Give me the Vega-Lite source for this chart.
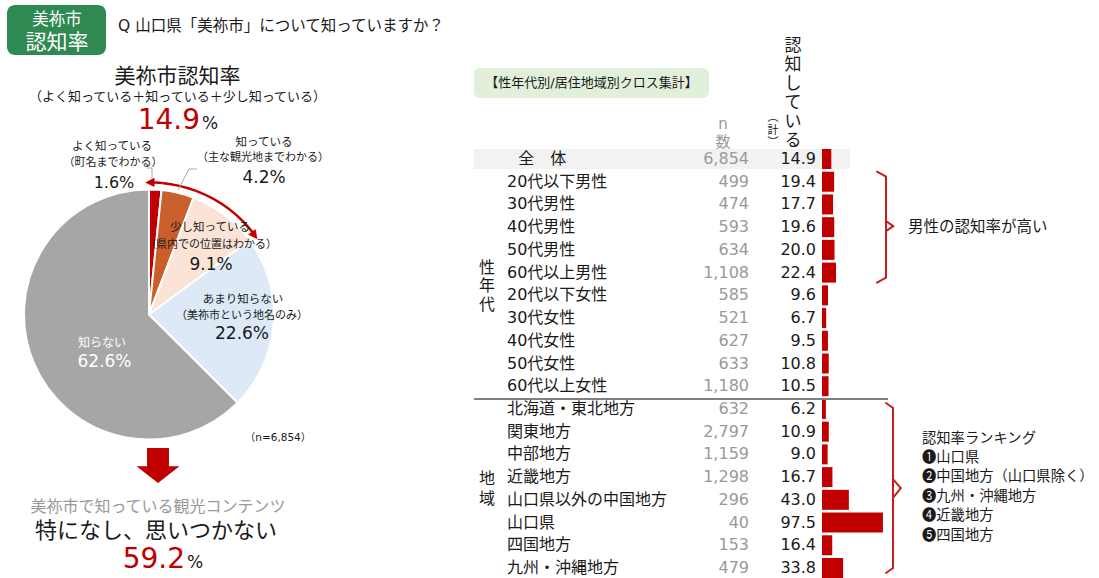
{
  "$schema": "https://vega.github.io/schema/vega-lite/v6.json",
  "padding": 0,
  "background": "white",
  "spacing": 4,
  "bounds": "flush",
  "config": {
    "view": {"stroke": null},
    "axis": {"disable": true},
    "legend": {"disable": true},
    "text": {"font": "DejaVu Sans, Noto Sans CJK JP", "fill": "#1a1a1a"}
  },
  "datasets": {
    "pie": [
      {"order": 1, "cat": "よく知っている", "pct": 1.6},
      {"order": 2, "cat": "知っている", "pct": 4.2},
      {"order": 3, "cat": "少し知っている", "pct": 9.1},
      {"order": 4, "cat": "あまり知らない", "pct": 22.6},
      {"order": 5, "cat": "知らない", "pct": 62.6}
    ],
    "table": [
      {"i": 0, "label": "全　体", "n": "6,854", "rate": 14.9},
      {"i": 1, "label": "20代以下男性", "n": "499", "rate": 19.4},
      {"i": 2, "label": "30代男性", "n": "474", "rate": 17.7},
      {"i": 3, "label": "40代男性", "n": "593", "rate": 19.6},
      {"i": 4, "label": "50代男性", "n": "634", "rate": 20.0},
      {"i": 5, "label": "60代以上男性", "n": "1,108", "rate": 22.4},
      {"i": 6, "label": "20代以下女性", "n": "585", "rate": 9.6},
      {"i": 7, "label": "30代女性", "n": "521", "rate": 6.7},
      {"i": 8, "label": "40代女性", "n": "627", "rate": 9.5},
      {"i": 9, "label": "50代女性", "n": "633", "rate": 10.8},
      {"i": 10, "label": "60代以上女性", "n": "1,180", "rate": 10.5},
      {"i": 11, "label": "北海道・東北地方", "n": "632", "rate": 6.2},
      {"i": 12, "label": "関東地方", "n": "2,797", "rate": 10.9},
      {"i": 13, "label": "中部地方", "n": "1,159", "rate": 9.0},
      {"i": 14, "label": "近畿地方", "n": "1,298", "rate": 16.7},
      {"i": 15, "label": "山口県以外の中国地方", "n": "296", "rate": 43.0},
      {"i": 16, "label": "山口県", "n": "40", "rate": 97.5},
      {"i": 17, "label": "四国地方", "n": "153", "rate": 16.4},
      {"i": 18, "label": "九州・沖縄地方", "n": "479", "rate": 33.8}
    ]
  },
  "hconcat": [
    {
      "width": 470,
      "height": 578,
      "data": {"values": [{}]},
      "layer": [
        {"mark": {"type": "rect", "fill": "#2e8a50", "cornerRadius": 8},
         "encoding": {"x": {"datum": 7, "type": "quantitative", "scale": {"domain": [0, 470]}}, "x2": {"datum": 106},
                      "y": {"datum": 5, "type": "quantitative", "scale": {"domain": [578, 0]}}, "y2": {"datum": 55}}},
        {"mark": {"type": "text", "text": "美祢市", "fontSize": 16.5, "fill": "#ffffff"},
         "encoding": {"x": {"datum": 57, "type": "quantitative", "scale": {"domain": [0, 470]}}, "y": {"datum": 20, "type": "quantitative", "scale": {"domain": [578, 0]}}}},
        {"mark": {"type": "text", "text": "認知率", "fontSize": 21, "fill": "#ffffff"},
         "encoding": {"x": {"datum": 57, "type": "quantitative", "scale": {"domain": [0, 470]}}, "y": {"datum": 43, "type": "quantitative", "scale": {"domain": [578, 0]}}}},
        {"mark": {"type": "text", "text": "Q 山口県「美祢市」について知っていますか？", "fontSize": 15.5, "align": "left"},
         "encoding": {"x": {"datum": 118, "type": "quantitative", "scale": {"domain": [0, 470]}}, "y": {"datum": 26, "type": "quantitative", "scale": {"domain": [578, 0]}}}},
        {"mark": {"type": "text", "text": "美祢市認知率", "fontSize": 21},
         "encoding": {"x": {"datum": 177.5, "type": "quantitative", "scale": {"domain": [0, 470]}}, "y": {"datum": 77, "type": "quantitative", "scale": {"domain": [578, 0]}}}},
        {"mark": {"type": "text", "text": "（よく知っている＋知っている＋少し知っている）", "fontSize": 13},
         "encoding": {"x": {"datum": 177.5, "type": "quantitative", "scale": {"domain": [0, 470]}}, "y": {"datum": 97, "type": "quantitative", "scale": {"domain": [578, 0]}}}},
        {"mark": {"type": "text", "text": "14.9", "fontSize": 28, "fill": "#c00000", "align": "right"},
         "encoding": {"x": {"datum": 200, "type": "quantitative", "scale": {"domain": [0, 470]}}, "y": {"datum": 121, "type": "quantitative", "scale": {"domain": [578, 0]}}}},
        {"mark": {"type": "text", "text": "%", "fontSize": 17, "align": "left"},
         "encoding": {"x": {"datum": 202, "type": "quantitative", "scale": {"domain": [0, 470]}}, "y": {"datum": 124, "type": "quantitative", "scale": {"domain": [578, 0]}}}},
        {"data": {"name": "pie"},
         "transform": [{"stack": "pct", "groupby": [], "sort": [{"field": "order", "order": "ascending"}], "as": ["p0", "p1"]}],
         "mark": {"type": "arc", "outerRadius": 125, "stroke": "#ffffff", "strokeWidth": 2},
         "encoding": {
           "x": {"datum": 149, "type": "quantitative", "scale": {"domain": [0, 470]}},
           "y": {"datum": 314.5, "type": "quantitative", "scale": {"domain": [578, 0]}},
           "theta": {"field": "p0", "type": "quantitative", "stack": null, "scale": {"domain": [0, 100.1]}},
           "theta2": {"field": "p1"},
           "color": {"field": "cat", "type": "nominal", "legend": null,
                     "scale": {"domain": ["よく知っている", "知っている", "少し知っている", "あまり知らない", "知らない"],
                               "range": ["#c00000", "#c9602c", "#fbe3d6", "#dde9f6", "#a6a6a6"]}}
         }},
        {"data": {"name": "pie"},
         "transform": [{"stack": "pct", "groupby": [], "sort": [{"field": "order", "order": "ascending"}], "as": ["p0", "p1"]}, {"filter": "datum.order <= 3"}],
         "mark": {"type": "arc", "innerRadius": 131, "outerRadius": 133.5, "fill": "#c00000", "strokeWidth": 0},
         "encoding": {
           "x": {"datum": 149, "type": "quantitative", "scale": {"domain": [0, 470]}},
           "y": {"datum": 314.5, "type": "quantitative", "scale": {"domain": [578, 0]}},
           "theta": {"field": "p0", "type": "quantitative", "stack": null, "scale": {"domain": [0, 100.1]}},
           "theta2": {"field": "p1"}
         }},
        {"data": {"name": "pie"},
         "transform": [{"stack": "pct", "groupby": [], "sort": [{"field": "order", "order": "ascending"}], "as": ["p0", "p1"]}, {"filter": "datum.order == 1"}],
         "mark": {"type": "text", "text": "▲", "fontSize": 12, "fill": "#c00000", "radius": 132, "angle": 270},
         "encoding": {
           "x": {"datum": 149, "type": "quantitative", "scale": {"domain": [0, 470]}},
           "y": {"datum": 314.5, "type": "quantitative", "scale": {"domain": [578, 0]}},
           "theta": {"field": "p0", "type": "quantitative", "stack": null, "scale": {"domain": [0, 100.1]}}
         }},
        {"data": {"name": "pie"},
         "transform": [{"stack": "pct", "groupby": [], "sort": [{"field": "order", "order": "ascending"}], "as": ["p0", "p1"]}, {"filter": "datum.order == 3"}],
         "mark": {"type": "text", "text": "▲", "fontSize": 12, "fill": "#c00000", "radius": 132, "angle": 143.6},
         "encoding": {
           "x": {"datum": 149, "type": "quantitative", "scale": {"domain": [0, 470]}},
           "y": {"datum": 314.5, "type": "quantitative", "scale": {"domain": [578, 0]}},
           "theta": {"field": "p1", "type": "quantitative", "stack": null, "scale": {"domain": [0, 100.1]}}
         }},
        {"mark": {"type": "rule", "color": "#a6a6a6", "strokeWidth": 1},
         "encoding": {"x": {"datum": 147, "type": "quantitative", "scale": {"domain": [0, 470]}}, "x2": {"datum": 152},
                      "y": {"datum": 168, "type": "quantitative", "scale": {"domain": [578, 0]}}, "y2": {"datum": 168}}},
        {"mark": {"type": "rule", "color": "#a6a6a6", "strokeWidth": 1},
         "encoding": {"x": {"datum": 152, "type": "quantitative", "scale": {"domain": [0, 470]}}, "x2": {"datum": 152},
                      "y": {"datum": 168, "type": "quantitative", "scale": {"domain": [578, 0]}}, "y2": {"datum": 179}}},
        {"mark": {"type": "rule", "color": "#a6a6a6", "strokeWidth": 1},
         "encoding": {"x": {"datum": 178, "type": "quantitative", "scale": {"domain": [0, 470]}}, "x2": {"datum": 189},
                      "y": {"datum": 190, "type": "quantitative", "scale": {"domain": [578, 0]}}, "y2": {"datum": 169}}},
        {"mark": {"type": "rule", "color": "#a6a6a6", "strokeWidth": 1},
         "encoding": {"x": {"datum": 189, "type": "quantitative", "scale": {"domain": [0, 470]}}, "x2": {"datum": 197},
                      "y": {"datum": 169, "type": "quantitative", "scale": {"domain": [578, 0]}}, "y2": {"datum": 169}}},
        {"mark": {"type": "text", "text": "よく知っている", "fontSize": 11.5},
         "encoding": {"x": {"datum": 112, "type": "quantitative", "scale": {"domain": [0, 470]}}, "y": {"datum": 147, "type": "quantitative", "scale": {"domain": [578, 0]}}}},
        {"mark": {"type": "text", "text": "（町名までわかる）", "fontSize": 11},
         "encoding": {"x": {"datum": 113, "type": "quantitative", "scale": {"domain": [0, 470]}}, "y": {"datum": 163, "type": "quantitative", "scale": {"domain": [578, 0]}}}},
        {"mark": {"type": "text", "text": "1.6%", "fontSize": 16},
         "encoding": {"x": {"datum": 114, "type": "quantitative", "scale": {"domain": [0, 470]}}, "y": {"datum": 183, "type": "quantitative", "scale": {"domain": [578, 0]}}}},
        {"mark": {"type": "text", "text": "知っている", "fontSize": 11.5},
         "encoding": {"x": {"datum": 264, "type": "quantitative", "scale": {"domain": [0, 470]}}, "y": {"datum": 143, "type": "quantitative", "scale": {"domain": [578, 0]}}}},
        {"mark": {"type": "text", "text": "（主な観光地までわかる）", "fontSize": 11},
         "encoding": {"x": {"datum": 263, "type": "quantitative", "scale": {"domain": [0, 470]}}, "y": {"datum": 158, "type": "quantitative", "scale": {"domain": [578, 0]}}}},
        {"mark": {"type": "text", "text": "4.2%", "fontSize": 17},
         "encoding": {"x": {"datum": 264, "type": "quantitative", "scale": {"domain": [0, 470]}}, "y": {"datum": 178, "type": "quantitative", "scale": {"domain": [578, 0]}}}},
        {"mark": {"type": "text", "text": "少し知っている", "fontSize": 11.5},
         "encoding": {"x": {"datum": 210, "type": "quantitative", "scale": {"domain": [0, 470]}}, "y": {"datum": 228, "type": "quantitative", "scale": {"domain": [578, 0]}}}},
        {"mark": {"type": "text", "text": "（県内での位置はわかる）", "fontSize": 11},
         "encoding": {"x": {"datum": 211, "type": "quantitative", "scale": {"domain": [0, 470]}}, "y": {"datum": 245, "type": "quantitative", "scale": {"domain": [578, 0]}}}},
        {"mark": {"type": "text", "text": "9.1%", "fontSize": 17},
         "encoding": {"x": {"datum": 211, "type": "quantitative", "scale": {"domain": [0, 470]}}, "y": {"datum": 265, "type": "quantitative", "scale": {"domain": [578, 0]}}}},
        {"mark": {"type": "text", "text": "あまり知らない", "fontSize": 11.5},
         "encoding": {"x": {"datum": 243, "type": "quantitative", "scale": {"domain": [0, 470]}}, "y": {"datum": 300, "type": "quantitative", "scale": {"domain": [578, 0]}}}},
        {"mark": {"type": "text", "text": "（美祢市という地名のみ）", "fontSize": 11},
         "encoding": {"x": {"datum": 242, "type": "quantitative", "scale": {"domain": [0, 470]}}, "y": {"datum": 316, "type": "quantitative", "scale": {"domain": [578, 0]}}}},
        {"mark": {"type": "text", "text": "22.6%", "fontSize": 17},
         "encoding": {"x": {"datum": 242, "type": "quantitative", "scale": {"domain": [0, 470]}}, "y": {"datum": 334, "type": "quantitative", "scale": {"domain": [578, 0]}}}},
        {"mark": {"type": "text", "text": "知らない", "fontSize": 12, "fill": "#ffffff"},
         "encoding": {"x": {"datum": 102, "type": "quantitative", "scale": {"domain": [0, 470]}}, "y": {"datum": 343, "type": "quantitative", "scale": {"domain": [578, 0]}}}},
        {"mark": {"type": "text", "text": "62.6%", "fontSize": 17, "fill": "#ffffff"},
         "encoding": {"x": {"datum": 104.5, "type": "quantitative", "scale": {"domain": [0, 470]}}, "y": {"datum": 362, "type": "quantitative", "scale": {"domain": [578, 0]}}}},
        {"mark": {"type": "text", "text": "（n=6,854）", "fontSize": 10.5},
         "encoding": {"x": {"datum": 278, "type": "quantitative", "scale": {"domain": [0, 470]}}, "y": {"datum": 438, "type": "quantitative", "scale": {"domain": [578, 0]}}}},
        {"mark": {"type": "point", "shape": "M-0.51,-0.81L0.51,-0.81L0.51,0.03L1,0.03L0,0.81L-1,0.03L-0.51,0.03Z", "size": 1849, "filled": true, "fill": "#c00000", "opacity": 1, "strokeWidth": 0},
         "encoding": {"x": {"datum": 158, "type": "quantitative", "scale": {"domain": [0, 470]}}, "y": {"datum": 465.5, "type": "quantitative", "scale": {"domain": [578, 0]}}}},
        {"mark": {"type": "text", "text": "美祢市で知っている観光コンテンツ", "fontSize": 16, "fill": "#999999"},
         "encoding": {"x": {"datum": 158, "type": "quantitative", "scale": {"domain": [0, 470]}}, "y": {"datum": 507, "type": "quantitative", "scale": {"domain": [578, 0]}}}},
        {"mark": {"type": "text", "text": "特になし、思いつかない", "fontSize": 22},
         "encoding": {"x": {"datum": 156, "type": "quantitative", "scale": {"domain": [0, 470]}}, "y": {"datum": 531, "type": "quantitative", "scale": {"domain": [578, 0]}}}},
        {"mark": {"type": "text", "text": "59.2", "fontSize": 28, "fill": "#c00000", "align": "right"},
         "encoding": {"x": {"datum": 185, "type": "quantitative", "scale": {"domain": [0, 470]}}, "y": {"datum": 560, "type": "quantitative", "scale": {"domain": [578, 0]}}}},
        {"mark": {"type": "text", "text": "%", "fontSize": 17, "align": "left"},
         "encoding": {"x": {"datum": 187, "type": "quantitative", "scale": {"domain": [0, 470]}}, "y": {"datum": 563, "type": "quantitative", "scale": {"domain": [578, 0]}}}}
      ]
    },
    {
      "spacing": 4,
      "bounds": "flush",
      "vconcat": [
        {
          "width": 625,
          "height": 145,
          "data": {"values": [{}]},
          "layer": [
            {"mark": {"type": "rect", "fill": "#e2efda", "cornerRadius": 6},
             "encoding": {"x": {"datum": -556.8, "type": "quantitative", "scale": {"domain": [-556.8, 443.2]}}, "x2": {"datum": -180.8},
                          "y": {"datum": 68, "type": "quantitative", "scale": {"domain": [145, 0]}}, "y2": {"datum": 98}}},
            {"mark": {"type": "text", "text": "【性年代別/居住地域別クロス集計】", "fontSize": 13},
             "encoding": {"x": {"datum": -368.8, "type": "quantitative", "scale": {"domain": [-556.8, 443.2]}}, "y": {"datum": 83, "type": "quantitative", "scale": {"domain": [145, 0]}}}},
            {"mark": {"type": "text", "text": "n", "fontSize": 15, "fill": "#999999"},
             "encoding": {"x": {"datum": -158.4, "type": "quantitative", "scale": {"domain": [-556.8, 443.2]}}, "y": {"datum": 124, "type": "quantitative", "scale": {"domain": [145, 0]}}}},
            {"mark": {"type": "text", "text": "数", "fontSize": 15, "fill": "#999999"},
             "encoding": {"x": {"datum": -158.4, "type": "quantitative", "scale": {"domain": [-556.8, 443.2]}}, "y": {"datum": 142, "type": "quantitative", "scale": {"domain": [145, 0]}}}},
            {"mark": {"type": "text", "text": ["認", "知", "し", "て", "い", "る"], "fontSize": 17, "lineHeight": 19, "baseline": "top"},
             "encoding": {"x": {"datum": -46.4, "type": "quantitative", "scale": {"domain": [-556.8, 443.2]}}, "y": {"datum": 38, "type": "quantitative", "scale": {"domain": [145, 0]}}}},
            {"mark": {"type": "text", "text": ["︵", "計", "︶"], "fontSize": 11, "lineHeight": 12.5, "baseline": "top"},
             "encoding": {"x": {"datum": -78.4, "type": "quantitative", "scale": {"domain": [-556.8, 443.2]}}, "y": {"datum": 112, "type": "quantitative", "scale": {"domain": [145, 0]}}}}
          ]
        },
        {
          "width": 625,
          "height": 429,
          "data": {"name": "table"},
          "encoding": {
            "y": {"field": "label", "type": "nominal", "sort": null,
                  "scale": {"domain": ["全　体", "20代以下男性", "30代男性", "40代男性", "50代男性", "60代以上男性", "20代以下女性", "30代女性", "40代女性", "50代女性", "60代以上女性", "北海道・東北地方", "関東地方", "中部地方", "近畿地方", "山口県以外の中国地方", "山口県", "四国地方", "九州・沖縄地方"],
                            "paddingInner": 0.12, "paddingOuter": 0}}
          },
          "layer": [
            {"transform": [{"filter": "datum.i == 0"}],
             "mark": {"type": "bar", "color": "#f2f2f2"},
             "encoding": {"x": {"datum": -556.8, "type": "quantitative", "scale": {"domain": [-556.8, 443.2]}}, "x2": {"datum": 44.8}}},
            {"mark": {"type": "bar", "color": "#c00000"},
             "encoding": {"x": {"field": "rate", "type": "quantitative", "scale": {"domain": [-556.8, 443.2]}}}},
            {"transform": [{"filter": "datum.i > 0"}],
             "mark": {"type": "text", "align": "left", "fontSize": 16},
             "encoding": {"x": {"datum": -504, "type": "quantitative", "scale": {"domain": [-556.8, 443.2]}}, "text": {"field": "label"}}},
            {"transform": [{"filter": "datum.i == 0"}],
             "mark": {"type": "text", "align": "left", "fontSize": 16},
             "encoding": {"x": {"datum": -486, "type": "quantitative", "scale": {"domain": [-556.8, 443.2]}}, "text": {"field": "label"}}},
            {"mark": {"type": "text", "align": "right", "fontSize": 16, "fill": "#999999"},
             "encoding": {"x": {"datum": -116.8, "type": "quantitative", "scale": {"domain": [-556.8, 443.2]}}, "text": {"field": "n"}}},
            {"mark": {"type": "text", "align": "right", "fontSize": 16},
             "encoding": {"x": {"datum": -9.6, "type": "quantitative", "scale": {"domain": [-556.8, 443.2]}}, "text": {"field": "rate", "type": "quantitative", "format": ".1f"}}},
            {"transform": [{"filter": "datum.i == 0"}],
             "mark": {"type": "rule", "color": "#808080", "strokeWidth": 2},
             "encoding": {"x": {"datum": -556.8, "type": "quantitative", "scale": {"domain": [-556.8, 443.2]}}, "x2": {"datum": 105.6},
                          "y": {"datum": "北海道・東北地方", "type": "nominal", "bandPosition": 0}}},
            {"transform": [{"filter": "datum.i == 0"}],
             "mark": {"type": "rule", "color": "#c81e1e", "strokeWidth": 2, "strokeCap": "round"},
             "encoding": {"x": {"datum": 102.4, "type": "quantitative", "scale": {"domain": [-556.8, 443.2]}}, "x2": {"datum": 102.4},
                          "y": {"datum": "20代以下男性", "type": "nominal", "bandPosition": 0.25}, "y2": {"datum": "60代以上男性", "bandPosition": 0.75}}},
            {"transform": [{"filter": "datum.i == 0"}],
             "mark": {"type": "rule", "color": "#c81e1e", "strokeWidth": 2, "strokeCap": "round"},
             "encoding": {"x": {"datum": 88, "type": "quantitative", "scale": {"domain": [-556.8, 443.2]}}, "x2": {"datum": 102.4},
                          "y": {"datum": "20代以下男性", "type": "nominal", "bandPosition": 0}, "y2": {"datum": "20代以下男性", "bandPosition": 0.25}}},
            {"transform": [{"filter": "datum.i == 0"}],
             "mark": {"type": "rule", "color": "#c81e1e", "strokeWidth": 2, "strokeCap": "round"},
             "encoding": {"x": {"datum": 102.4, "type": "quantitative", "scale": {"domain": [-556.8, 443.2]}}, "x2": {"datum": 88},
                          "y": {"datum": "60代以上男性", "type": "nominal", "bandPosition": 0.75}, "y2": {"datum": "60代以上男性", "bandPosition": 1}}},
            {"transform": [{"filter": "datum.i == 0"}],
             "mark": {"type": "rule", "color": "#c81e1e", "strokeWidth": 2, "strokeCap": "round"},
             "encoding": {"x": {"datum": 102.4, "type": "quantitative", "scale": {"domain": [-556.8, 443.2]}}, "x2": {"datum": 114},
                          "y": {"datum": "40代男性", "type": "nominal", "bandPosition": 0.2}, "y2": {"datum": "40代男性", "bandPosition": 0.45}}},
            {"transform": [{"filter": "datum.i == 0"}],
             "mark": {"type": "rule", "color": "#c81e1e", "strokeWidth": 2, "strokeCap": "round"},
             "encoding": {"x": {"datum": 114, "type": "quantitative", "scale": {"domain": [-556.8, 443.2]}}, "x2": {"datum": 102.4},
                          "y": {"datum": "40代男性", "type": "nominal", "bandPosition": 0.45}, "y2": {"datum": "40代男性", "bandPosition": 0.7}}},
            {"transform": [{"filter": "datum.i == 0"}],
             "mark": {"type": "rule", "color": "#c81e1e", "strokeWidth": 2, "strokeCap": "round"},
             "encoding": {"x": {"datum": 113.6, "type": "quantitative", "scale": {"domain": [-556.8, 443.2]}}, "x2": {"datum": 113.6},
                          "y": {"datum": "北海道・東北地方", "type": "nominal", "bandPosition": 0.45}, "y2": {"datum": "九州・沖縄地方", "bandPosition": 0.5}}},
            {"transform": [{"filter": "datum.i == 0"}],
             "mark": {"type": "rule", "color": "#c81e1e", "strokeWidth": 2, "strokeCap": "round"},
             "encoding": {"x": {"datum": 102.4, "type": "quantitative", "scale": {"domain": [-556.8, 443.2]}}, "x2": {"datum": 113.6},
                          "y": {"datum": "北海道・東北地方", "type": "nominal", "bandPosition": 0.2}, "y2": {"datum": "北海道・東北地方", "bandPosition": 0.45}}},
            {"transform": [{"filter": "datum.i == 0"}],
             "mark": {"type": "rule", "color": "#c81e1e", "strokeWidth": 2, "strokeCap": "round"},
             "encoding": {"x": {"datum": 113.6, "type": "quantitative", "scale": {"domain": [-556.8, 443.2]}}, "x2": {"datum": 102.4},
                          "y": {"datum": "九州・沖縄地方", "type": "nominal", "bandPosition": 0.5}, "y2": {"datum": "九州・沖縄地方", "bandPosition": 0.75}}},
            {"transform": [{"filter": "datum.i == 0"}],
             "mark": {"type": "rule", "color": "#c81e1e", "strokeWidth": 2, "strokeCap": "round"},
             "encoding": {"x": {"datum": 113.6, "type": "quantitative", "scale": {"domain": [-556.8, 443.2]}}, "x2": {"datum": 126},
                          "y": {"datum": "近畿地方", "type": "nominal", "bandPosition": 0.6}, "y2": {"datum": "近畿地方", "bandPosition": 1.05}}},
            {"transform": [{"filter": "datum.i == 0"}],
             "mark": {"type": "rule", "color": "#c81e1e", "strokeWidth": 2, "strokeCap": "round"},
             "encoding": {"x": {"datum": 126, "type": "quantitative", "scale": {"domain": [-556.8, 443.2]}}, "x2": {"datum": 113.6},
                          "y": {"datum": "近畿地方", "type": "nominal", "bandPosition": 1.05}, "y2": {"datum": "山口県以外の中国地方", "bandPosition": 0.4}}},
            {"transform": [{"filter": "datum.i == 0"}],
             "mark": {"type": "text", "text": "男性の認知率が高い", "align": "left", "fontSize": 15.5},
             "encoding": {"x": {"datum": 137.6, "type": "quantitative", "scale": {"domain": [-556.8, 443.2]}}, "y": {"datum": "40代男性", "type": "nominal"}}},
            {"transform": [{"filter": "datum.i == 0"}],
             "mark": {"type": "text", "text": ["認知率ランキング", "❶山口県", "❷中国地方（山口県除く）", "❸九州・沖縄地方", "❹近畿地方", "❺四国地方"], "align": "left", "baseline": "top", "fontSize": 14.3, "lineHeight": 19.4, "font": "Noto Sans CJK JP, DejaVu Sans"},
             "encoding": {"x": {"datum": 160, "type": "quantitative", "scale": {"domain": [-556.8, 443.2]}}, "y": {"datum": "関東地方", "type": "nominal"}}},
            {"transform": [{"filter": "datum.i == 0"}],
             "mark": {"type": "text", "text": ["性", "年", "代"], "baseline": "top", "fontSize": 16, "lineHeight": 18.5},
             "encoding": {"x": {"datum": -536, "type": "quantitative", "scale": {"domain": [-556.8, 443.2]}}, "y": {"datum": "50代男性", "type": "nominal", "bandPosition": 1}}},
            {"transform": [{"filter": "datum.i == 0"}],
             "mark": {"type": "text", "text": ["地", "域"], "baseline": "top", "fontSize": 16, "lineHeight": 20},
             "encoding": {"x": {"datum": -536, "type": "quantitative", "scale": {"domain": [-556.8, 443.2]}}, "y": {"datum": "近畿地方", "type": "nominal", "bandPosition": 0.2}}}
          ]
        }
      ]
    }
  ]
}
